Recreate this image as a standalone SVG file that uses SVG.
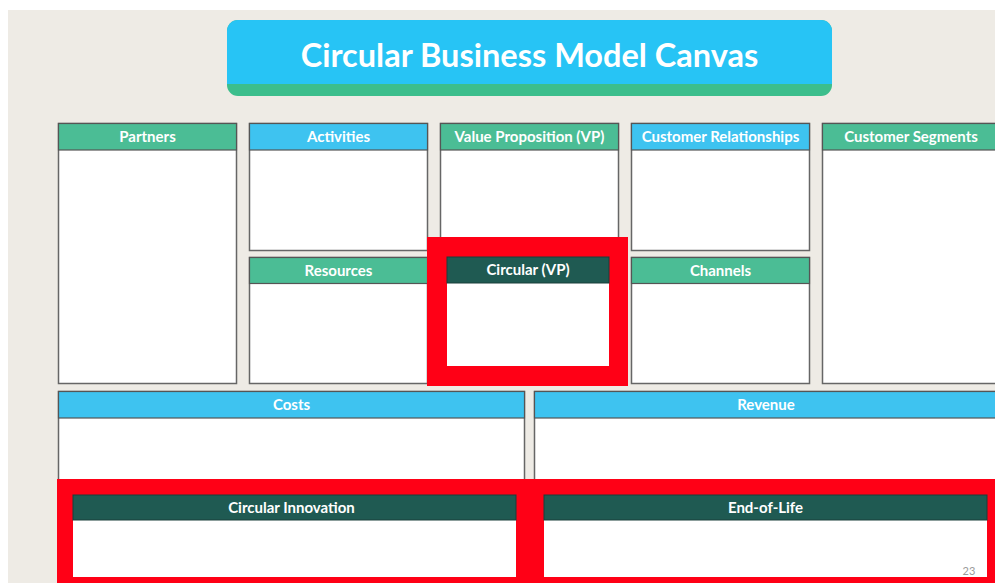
<svg xmlns="http://www.w3.org/2000/svg" width="995" height="583" viewBox="0 0 995 583">
<style>
.body{fill:#ffffff;stroke:#666666;stroke-width:1.5}
.hb{fill:#3ec3f0;stroke:#555555;stroke-width:1.2}
.hg{fill:#4bbd95;stroke:#555555;stroke-width:1.2}
.hd{fill:#1f5a52;stroke:#1a3f3a;stroke-width:1}
.red{fill:#ff0016}
.lbl{font-family:Lato,"Open Sans","Liberation Sans",sans-serif;font-weight:bold;font-size:15px;fill:#ffffff;text-anchor:middle}
.title{font-family:Lato,"Open Sans","Liberation Sans",sans-serif;font-weight:bold;font-size:32.5px;fill:#ffffff;text-anchor:middle}
</style>
<rect x="0" y="0" width="995" height="583" fill="#ffffff"/>
<rect x="8" y="10" width="987" height="573" fill="#eeebe5"/>

<g id="title">
<rect x="227" y="20" width="605" height="76" rx="11" fill="#3cbe8c"/>
<rect x="227" y="20" width="605" height="64" rx="11" fill="#27c4f5"/>
<rect x="227" y="70" width="605" height="14" fill="#27c4f5"/>
<text class="title" x="529.5" y="67">Circular Business Model Canvas</text>
</g>

<g id="partners">
<rect class="body" x="58.5" y="123.5" width="178" height="260"/>
<rect class="hg" x="58.5" y="123.5" width="178" height="26.5"/>
<text class="lbl" x="147.5" y="142">Partners</text>
</g>

<g id="activities">
<rect class="body" x="249.5" y="123.5" width="178" height="127"/>
<rect class="hb" x="249.5" y="123.5" width="178" height="26.5"/>
<text class="lbl" x="338.5" y="142">Activities</text>
</g>

<g id="value-proposition">
<rect class="body" x="440.5" y="123.5" width="178" height="127"/>
<rect class="hg" x="440.5" y="123.5" width="178" height="26.5"/>
<text class="lbl" x="529.5" y="142">Value Proposition (VP)</text>
</g>

<g id="customer-relationships">
<rect class="body" x="631.5" y="123.5" width="178" height="127"/>
<rect class="hb" x="631.5" y="123.5" width="178" height="26.5"/>
<text class="lbl" x="720.5" y="142">Customer Relationships</text>
</g>

<g id="customer-segments">
<rect class="body" x="822.5" y="123.5" width="178" height="260"/>
<rect class="hg" x="822.5" y="123.5" width="178" height="26.5"/>
<text class="lbl" x="911" y="142">Customer Segments</text>
</g>

<g id="resources">
<rect class="body" x="249.5" y="257.5" width="178" height="126"/>
<rect class="hg" x="249.5" y="257.5" width="178" height="26"/>
<text class="lbl" x="338.5" y="275.5">Resources</text>
</g>

<g id="channels">
<rect class="body" x="631.5" y="257.5" width="178" height="126"/>
<rect class="hg" x="631.5" y="257.5" width="178" height="26"/>
<text class="lbl" x="720.5" y="275.5">Channels</text>
</g>

<g id="circular-vp">
<rect class="red" x="427" y="237" width="201" height="149"/>
<rect x="447" y="257" width="162" height="109" fill="#ffffff"/>
<rect class="hd" x="447" y="257" width="162" height="26"/>
<text class="lbl" x="528" y="275">Circular (VP)</text>
</g>

<g id="costs">
<rect class="body" x="58.5" y="391.5" width="466" height="100"/>
<rect class="hb" x="58.5" y="391.5" width="466" height="26.5"/>
<text class="lbl" x="291.5" y="410">Costs</text>
</g>

<g id="revenue">
<rect class="body" x="534.5" y="391.5" width="464" height="100"/>
<rect class="hb" x="534.5" y="391.5" width="464" height="26.5"/>
<text class="lbl" x="766" y="410">Revenue</text>
</g>

<g id="circular-innovation">
<rect class="red" x="57" y="479" width="473" height="104"/>
<rect x="73" y="495" width="443" height="82" fill="#ffffff"/>
<rect class="hd" x="73" y="495" width="443" height="25"/>
<text class="lbl" x="291.5" y="512.5">Circular Innovation</text>
</g>

<g id="end-of-life">
<rect class="red" x="530" y="479" width="465" height="104"/>
<rect x="544" y="495" width="443" height="82" fill="#ffffff"/>
<rect class="hd" x="544" y="495" width="443" height="25"/>
<text class="lbl" x="765.5" y="512.5">End-of-Life</text>
</g>

<text x="969" y="575" font-family="Lato,'Liberation Sans',sans-serif" font-size="11" fill="#9a9a9a" text-anchor="middle">23</text>

<g id="connectors"></g>
</svg>
